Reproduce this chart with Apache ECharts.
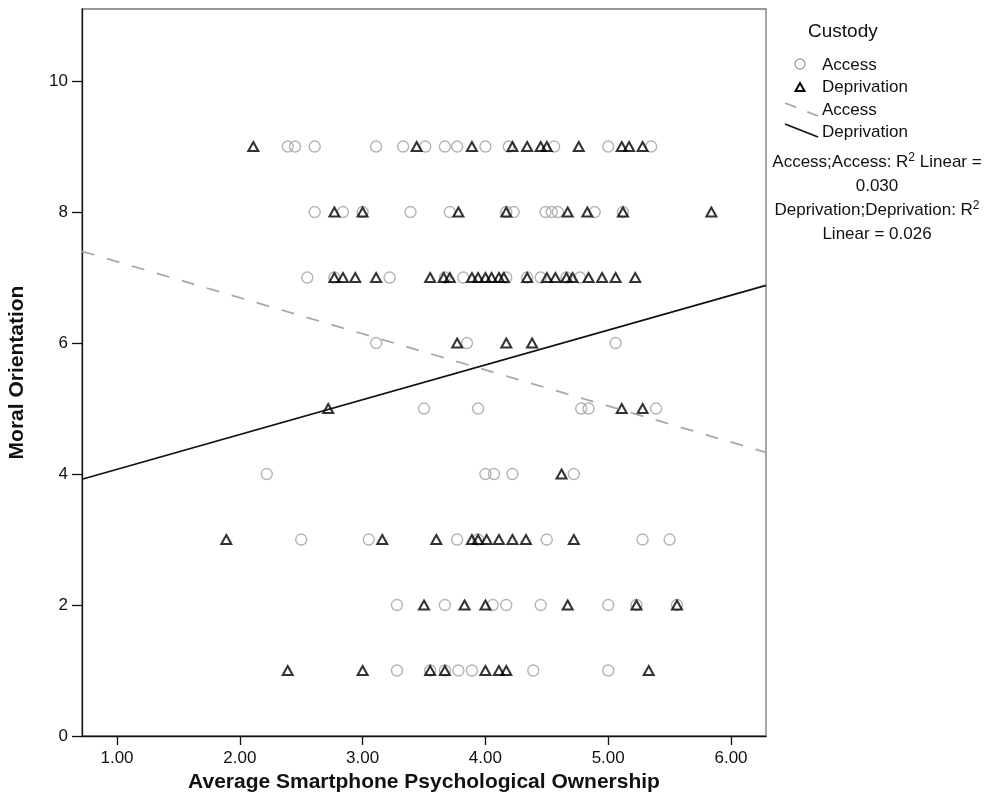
<!DOCTYPE html>
<html>
<head>
<meta charset="utf-8">
<script src="https://cdn.jsdelivr.net/npm/echarts@6/dist/echarts.min.js"></script>
<style>
html,body{margin:0;padding:0;background:#fff;}
#chart{width:1000px;height:812px;}
</style>
</head>
<body>
<div id="chart"></div>
<script>
// Access (circles) points: [ownership, moral orientation]
const accessPoints = [
  [2.39,9],[2.45,9],[2.61,9],[3.11,9],[3.33,9],[3.51,9],[3.67,9],[3.77,9],[4.00,9],[4.19,9],[4.56,9],[5.00,9],[5.35,9],
  [2.61,8],[2.84,8],[3.00,8],[3.39,8],[3.71,8],[4.17,8],[4.23,8],[4.49,8],[4.54,8],[4.59,8],[4.89,8],[5.12,8],
  [2.55,7],[2.77,7],[3.22,7],[3.67,7],[3.82,7],[4.17,7],[4.34,7],[4.45,7],[4.66,7],[4.77,7],
  [3.11,6],[3.85,6],[5.06,6],
  [3.50,5],[3.94,5],[4.78,5],[4.84,5],[5.39,5],
  [2.22,4],[4.00,4],[4.07,4],[4.22,4],[4.72,4],
  [2.50,3],[3.05,3],[3.77,3],[3.94,3],[4.50,3],[5.28,3],[5.50,3],
  [3.28,2],[3.67,2],[4.06,2],[4.17,2],[4.45,2],[5.00,2],[5.23,2],[5.56,2],
  [3.28,1],[3.55,1],[3.67,1],[3.78,1],[3.89,1],[4.39,1],[5.00,1]
];
// Deprivation (triangles) points
const deprivationPoints = [
  [2.11,9],[3.44,9],[3.89,9],[4.22,9],[4.34,9],[4.45,9],[4.50,9],[4.76,9],[5.11,9],[5.17,9],[5.28,9],
  [2.77,8],[3.00,8],[3.78,8],[4.17,8],[4.67,8],[4.83,8],[5.12,8],[5.84,8],
  [2.77,7],[2.84,7],[2.94,7],[3.11,7],[3.55,7],[3.66,7],[3.71,7],[3.89,7],[3.94,7],[4.00,7],[4.05,7],[4.11,7],[4.15,7],
  [4.34,7],[4.50,7],[4.57,7],[4.66,7],[4.71,7],[4.84,7],[4.95,7],[5.06,7],[5.22,7],
  [3.77,6],[4.17,6],[4.38,6],
  [2.72,5],[5.11,5],[5.28,5],
  [4.62,4],
  [1.89,3],[3.16,3],[3.60,3],[3.89,3],[3.94,3],[4.01,3],[4.11,3],[4.22,3],[4.33,3],[4.72,3],
  [3.50,2],[3.83,2],[4.00,2],[4.67,2],[5.23,2],[5.56,2],
  [2.39,1],[3.00,1],[3.55,1],[3.67,1],[4.00,1],[4.11,1],[4.17,1],[5.33,1]
];
// Fit lines (endpoints at the plot edges)
const accessFit = [[0.715, 7.40], [6.285, 4.33]];
const deprivationFit = [[0.715, 3.92], [6.285, 6.88]];
// Axis ticks
const xTicks = [1, 2, 3, 4, 5, 6];
const xRange = [0.715, 6.285];
const yRange = [0, 11.1];
const yInterval = 2;
const legendTitle = 'Custody';
const r2Lines = ['Access;Access: R{s|2} Linear =', '0.030', 'Deprivation;Deprivation: R{s|2}', 'Linear = 0.026'];

const FONT = '"Liberation Sans", Arial, sans-serif';
const chart = echarts.init(document.getElementById('chart'), null, {renderer: 'canvas'});

const LF = '17px ' + FONT;
const graphic = [
  {type:'text', x: 808, y: 32, style:{text: legendTitle, font:'19px ' + FONT, fill:'#111', verticalAlign:'middle'}},
  {type:'circle', shape:{cx:800, cy:64, r:5}, style:{fill:'none', stroke:'#a0a0a0', lineWidth:1.3}},
  {type:'text', x: 822, y: 65, style:{text:'Access', font:LF, fill:'#111', verticalAlign:'middle'}},
  {type:'polygon', shape:{points:[[795.5,91],[804.5,91],[800,83]]}, style:{fill:'none', stroke:'#000', lineWidth:2}},
  {type:'text', x: 822, y: 87, style:{text:'Deprivation', font:LF, fill:'#111', verticalAlign:'middle'}},
  {type:'line', shape:{x1:785, y1:103, x2:818, y2:116}, style:{stroke:'#a8a8a8', lineWidth:1.8, lineDash:[12,12]}},
  {type:'text', x: 822, y: 110, style:{text:'Access', font:LF, fill:'#111', verticalAlign:'middle'}},
  {type:'line', shape:{x1:785, y1:124, x2:818, y2:137}, style:{stroke:'#111', lineWidth:1.8}},
  {type:'text', x: 822, y: 132, style:{text:'Deprivation', font:LF, fill:'#111', verticalAlign:'middle'}}
];
const r2Y = [162, 186, 210, 234];
r2Lines.forEach(function(t, i){
  graphic.push({type:'text', x: 877, y: r2Y[i], style:{
    text: t, font:'17px ' + FONT, fill:'#111', align:'center', verticalAlign:'middle',
    rich:{ s:{fontSize:12, verticalAlign:'top', padding:[0,0,9,0], fontFamily: FONT} }
  }});
});

chart.setOption({
  backgroundColor:'#fff',
  animation:false,
  textStyle:{fontFamily: FONT},
  grid:{left:82, right:234, top:9, bottom:76, show:true, borderColor:'#777', borderWidth:1.3,
        backgroundColor:'#fff', containLabel:false, outerBoundsMode:'none'},
  xAxis:{
    type:'value', min:xRange[0], max:xRange[1],
    name:'Average Smartphone Psychological Ownership', nameLocation:'middle', nameGap:31,
    nameTextStyle:{fontSize:21, fontWeight:'bold', color:'#111', fontFamily: FONT},
    axisLine:{show:true, onZero:false, lineStyle:{color:'#111', width:1.3}},
    axisTick:{show:true, length:9, customValues:xTicks, lineStyle:{color:'#111', width:1.3}},
    axisLabel:{customValues:xTicks, formatter:function(v){return v.toFixed(2);}, fontSize:17, color:'#111', margin:14},
    splitLine:{show:false}
  },
  yAxis:{
    type:'value', min:yRange[0], max:yRange[1], interval:yInterval,
    name:'Moral Orientation', nameLocation:'middle', nameGap:54,
    nameTextStyle:{fontSize:21, fontWeight:'bold', color:'#111', fontFamily: FONT},
    axisLine:{show:true, lineStyle:{color:'#111', width:1.3}},
    axisTick:{show:true, length:10, lineStyle:{color:'#111', width:1.3}},
    axisLabel:{fontSize:17, color:'#111', margin:14, showMaxLabel:false},
    splitLine:{show:false}
  },
  graphic: graphic,
  series:[
    {name:'Access', type:'scatter', data:accessPoints, symbol:'circle', symbolSize:11,
     itemStyle:{color:'rgba(0,0,0,0)', borderColor:'#a0a0a0', borderWidth:1.4}, z:2},
    {name:'Deprivation', type:'scatter', data:deprivationPoints, symbol:'triangle', symbolSize:[10,9],
     itemStyle:{color:'rgba(0,0,0,0)', borderColor:'#000', borderWidth:2}, z:3},
    {name:'Access fit', type:'line', data:accessFit, showSymbol:false, symbol:'none',
     lineStyle:{color:'#a8a8a8', width:1.8, type:[13,13]}, z:4},
    {name:'Deprivation fit', type:'line', data:deprivationFit, showSymbol:false, symbol:'none',
     lineStyle:{color:'#111', width:1.8}, z:4}
  ]
});
</script>
</body>
</html>
